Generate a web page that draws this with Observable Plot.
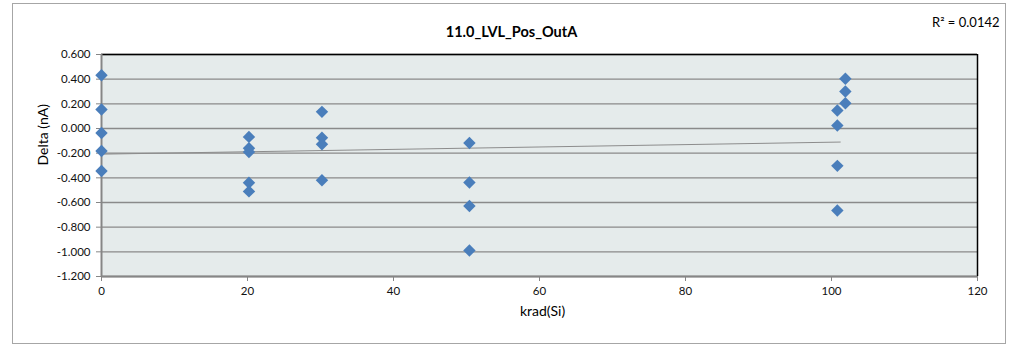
<!DOCTYPE html>
<html>
<head>
<meta charset="utf-8">
<script src="https://cdn.jsdelivr.net/npm/d3@7"></script>
<script src="https://cdn.jsdelivr.net/npm/@observablehq/plot@0.6"></script>
<style>
  html, body { margin: 0; padding: 0; background: #fff; }
  #wrap { position: relative; width: 1030px; height: 345px; }
  #border { position: absolute; left: 12px; top: 3px; width: 992px; height: 339px; border: 1px solid #a6a6a6; pointer-events: none; }
</style>
</head>
<body>
<div id="wrap"><div id="border"></div></div>
<script>
// Data
const doseX = [0, 0, 0, 0, 0,
               20.2, 20.2, 20.2, 20.2, 20.2,
               30.2, 30.2, 30.2, 30.2,
               50.4, 50.4, 50.4, 50.4,
               100.8, 100.8, 100.8, 100.8,
               101.9, 101.9, 101.9];
const deltaY = [0.432, 0.154, -0.036, -0.182, -0.344,
                -0.068, -0.16, -0.19, -0.44, -0.51,
                0.135, -0.075, -0.128, -0.419,
                -0.117, -0.438, -0.629, -0.989,
                0.146, 0.024, -0.303, -0.665,
                0.403, 0.30, 0.205];
const trendX = [0, 101.2];
const trendY = [-0.208, -0.11];
const xTicks = [0, 20, 40, 60, 80, 100, 120];
const yTicks = [-1.2, -1.0, -0.8, -0.6, -0.4, -0.2, 0.0, 0.2, 0.4, 0.6];
const titleText = "11.0_LVL_Pos_OutA";
const r2Text = "R² = 0.0142";
const xLabel = "krad(Si)";
const yLabel = "Delta (nA)";

const points = doseX.map((x, i) => ({x, y: deltaY[i]}));
const trend = trendX.map((x, i) => ({x, y: trendY[i]}));

const chart = Plot.plot({
  width: 1030,
  height: 345,
  marginLeft: 101,
  marginRight: 53,
  marginTop: 54,
  marginBottom: 69,
  style: {fontFamily: "Lato, 'Open Sans', sans-serif", fontSize: "11.5px", color: "#111", background: "transparent"},
  x: {domain: [0, 120]},
  y: {domain: [-1.2, 0.6]},
  marks: [
    Plot.frame({fill: "#e5ebeb", stroke: null}),
    Plot.gridY(yTicks, {stroke: "#8a8a8a", strokeOpacity: 1, strokeWidth: 1.3}),
    Plot.ruleY([0.6], {stroke: "#000", strokeWidth: 1.5}),
    Plot.ruleX([120], {stroke: "#000", strokeWidth: 1.5}),
    Plot.ruleX([0], {stroke: "#868686", strokeWidth: 2}),
    Plot.ruleY([-1.2], {stroke: "#868686", strokeWidth: 2}),
    Plot.axisY({ticks: yTicks, tickFormat: d => d.toFixed(3), tickSize: 5, tickPadding: 6, stroke: "#868686", label: null, fontSize: 11.5}),
    Plot.axisX({ticks: xTicks, tickFormat: d => String(d), tickSize: 5, tickPadding: 5, stroke: "#868686", label: null, fontSize: 11.5}),
    Plot.line(trend, {x: "x", y: "y", stroke: "#8c8c8c", strokeWidth: 1}),
    Plot.dot(points, {x: "x", y: "y", symbol: "diamond2", r: 5.6, fill: "#4a7ebb", stroke: null}),
    Plot.text([titleText], {frameAnchor: "top", dx: -28, dy: -28, text: d => d, fontWeight: "bold", fontSize: 14.5, fill: "#000"}),
    Plot.text([r2Text], {frameAnchor: "top-right", dx: 22, dy: -37, textAnchor: "end", text: d => d, fontSize: 13, fill: "#000"}),
    Plot.text([xLabel], {frameAnchor: "bottom", dx: 3, dy: 39, text: d => d, fontSize: 14, fill: "#000"}),
    Plot.text([yLabel], {frameAnchor: "left", dx: -58, rotate: -90, text: d => d, fontSize: 14, fill: "#000"})
  ]
});
document.getElementById("wrap").prepend(chart);
</script>
</body>
</html>
